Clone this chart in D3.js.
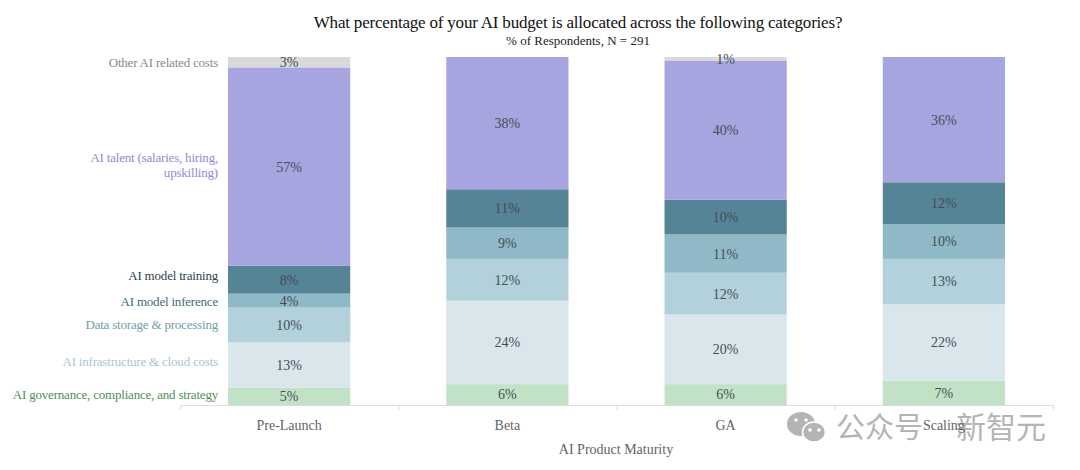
<!DOCTYPE html>
<html>
<head>
<meta charset="utf-8">
<script src="https://cdnjs.cloudflare.com/ajax/libs/d3/7.8.5/d3.min.js"></script>
<style>
  html, body { margin: 0; padding: 0; background: #fff; }
  text { font-family: "Liberation Serif", serif; }
</style>
</head>
<body>
<svg id="chart" width="1080" height="470"></svg>
<script>
// stages on the x axis
const stages = ["Pre-Launch", "Beta", "GA", "Scaling"];

// one list per budget category, same order as stages
const governance = [5, 6, 6, 7];
const infrastructure = [13, 24, 20, 22];
const storage = [10, 12, 12, 13];
const inference = [4, 9, 11, 10];
const training = [8, 11, 10, 12];
const talent = [57, 38, 40, 36];
const other = [3, 0, 1, 0];

const categories = [
    { name: ["AI governance, compliance, and strategy"], values: governance, fill: "#c2e2c6", ink: "#4c9156", nudge: -2 },
    { name: ["AI infrastructure & cloud costs"], values: infrastructure, fill: "#d9e7ec", ink: "#a6c6d0", nudge: -4 },
    { name: ["Data storage & processing"], values: storage, fill: "#b3d1da", ink: "#6f9eac", nudge: -1 },
    { name: ["AI model inference"], values: inference, fill: "#8fb9c7", ink: "#3f6b7a", nudge: 1 },
    { name: ["AI model training"], values: training, fill: "#558496", ink: "#2a4450", nudge: -4 },
    { name: ["AI talent (salaries, hiring,", "upskilling)"], values: talent, fill: "#a7a5e0", ink: "#8f8cd6", nudge: -2 },
    { name: ["Other AI related costs"], values: other, fill: "#d9d9d9", ink: "#8a8a8a", nudge: 0 }
];

const title = "What percentage of your AI budget is allocated across the following categories?";
const subtitle = "% of Respondents, N = 291";
const xAxisLabel = "AI Product Maturity";

const margin = { top: 57, right: 27, bottom: 65, left: 180 };
const width = 1080 - margin.left - margin.right;
const height = 470 - margin.top - margin.bottom;

const svg = d3.select("#chart");

const x = d3.scaleBand().domain(stages).range([0, width]).paddingInner(0.44).paddingOuter(0.22);
const y = d3.scaleLinear().domain([0, 100]).range([height, 0]);

const rows = stages.map((stage, i) => {
    const row = { stage };
    categories.forEach((c, k) => { row[k] = c.values[i]; });
    return row;
});
const stacked = d3.stack().keys(categories.map((c, k) => k))(rows);

// watermark goes in first, the axis labels print over it
const mark = svg.append("g").attr("fill", "#b4b4b4");
mark.append("ellipse").attr("cx", 801).attr("cy", 424).attr("rx", 14).attr("ry", 12);
mark.append("ellipse").attr("cx", 814).attr("cy", 432).attr("rx", 11.5).attr("ry", 10).attr("stroke", "#fff").attr("stroke-width", 1.5);
[[796, 420], [806, 420], [810, 430], [819, 430]].forEach(([cx, cy]) => {
    mark.append("circle").attr("cx", cx).attr("cy", cy).attr("r", 1.8).attr("fill", "#fff");
});
mark.append("text")
    .attr("x", 836)
    .attr("y", 438)
    .attr("font-size", 29)
    .style("font-family", '"Noto Sans CJK SC", sans-serif')
    .text("公众号");
mark.append("text")
    .attr("x", 956)
    .attr("y", 438)
    .attr("font-size", 30)
    .style("font-family", '"Noto Sans CJK SC", sans-serif')
    .text("新智元");

const g = svg.append("g").attr("transform", `translate(${margin.left}, ${margin.top})`);

const layer = g.selectAll(".layer")
    .data(stacked)
    .enter()
    .append("g")
    .attr("class", "layer");

layer.selectAll("rect")
    .data(d => d.filter(p => p[1] > p[0]))
    .enter()
    .append("rect")
    .attr("x", d => x(d.data.stage))
    .attr("width", x.bandwidth())
    .attr("y", d => y(d[1]))
    .attr("height", d => y(d[0]) - y(d[1]))
    .style("fill", (d, i, nodes) => categories[d3.select(nodes[i].parentNode).datum().key].fill);

layer.selectAll("text")
    .data(d => d.filter(p => p[1] > p[0]))
    .enter()
    .append("text")
    .attr("x", d => x(d.data.stage) + x.bandwidth() / 2)
    .attr("y", d => y((d[0] + d[1]) / 2))
    .attr("dy", "0.35em")
    .attr("text-anchor", "middle")
    .attr("font-size", 14)
    .attr("fill", "#454d57")
    .text(d => `${d[1] - d[0]}%`);

// category names sit left of the first bar
const firstStack = stacked.map(s => s[0]);
const names = g.selectAll(".name")
    .data(categories)
    .enter()
    .append("text")
    .attr("class", "name")
    .attr("text-anchor", "end")
    .attr("font-size", 13)
    .attr("letter-spacing", -0.2)
    .attr("fill", c => c.ink);

names.each(function (c, k) {
    const mid = y((firstStack[k][0] + firstStack[k][1]) / 2) + c.nudge;
    const lineHeight = 15;
    d3.select(this).selectAll("tspan")
        .data(c.name)
        .enter()
        .append("tspan")
        .attr("x", 38)
        .attr("y", (d, i) => mid + (i - (c.name.length - 1) / 2) * lineHeight)
        .attr("dy", "0.35em")
        .text(d => d);
});

// axis has ticks between the bands, so it gets its own scale
const axisScale = d3.scalePoint().domain(d3.range(stages.length + 1)).range([0, width]);
const axis = g.append("g")
    .attr("transform", `translate(0, ${height})`)
    .call(d3.axisBottom(axisScale).tickSize(5).tickFormat(""));
axis.selectAll("path, line").attr("stroke", "#dcdcdc");

g.selectAll(".stage")
    .data(stages)
    .enter()
    .append("text")
    .attr("class", "stage")
    .attr("x", d => x(d) + x.bandwidth() / 2)
    .attr("y", height + 25)
    .attr("text-anchor", "middle")
    .attr("font-size", 14)
    .attr("fill", "#5f6469")
    .text(d => d);

svg.append("text")
    .attr("x", 578)
    .attr("y", 28)
    .attr("text-anchor", "middle")
    .attr("font-size", 17)
    .attr("letter-spacing", -0.2)
    .attr("fill", "#111")
    .text(title);

svg.append("text")
    .attr("x", 578)
    .attr("y", 45)
    .attr("text-anchor", "middle")
    .attr("font-size", 13)
    .attr("fill", "#222")
    .text(subtitle);

svg.append("text")
    .attr("x", 616)
    .attr("y", 454)
    .attr("text-anchor", "middle")
    .attr("font-size", 14)
    .attr("fill", "#5f6469")
    .text(xAxisLabel);
</script>
</body>
</html>
